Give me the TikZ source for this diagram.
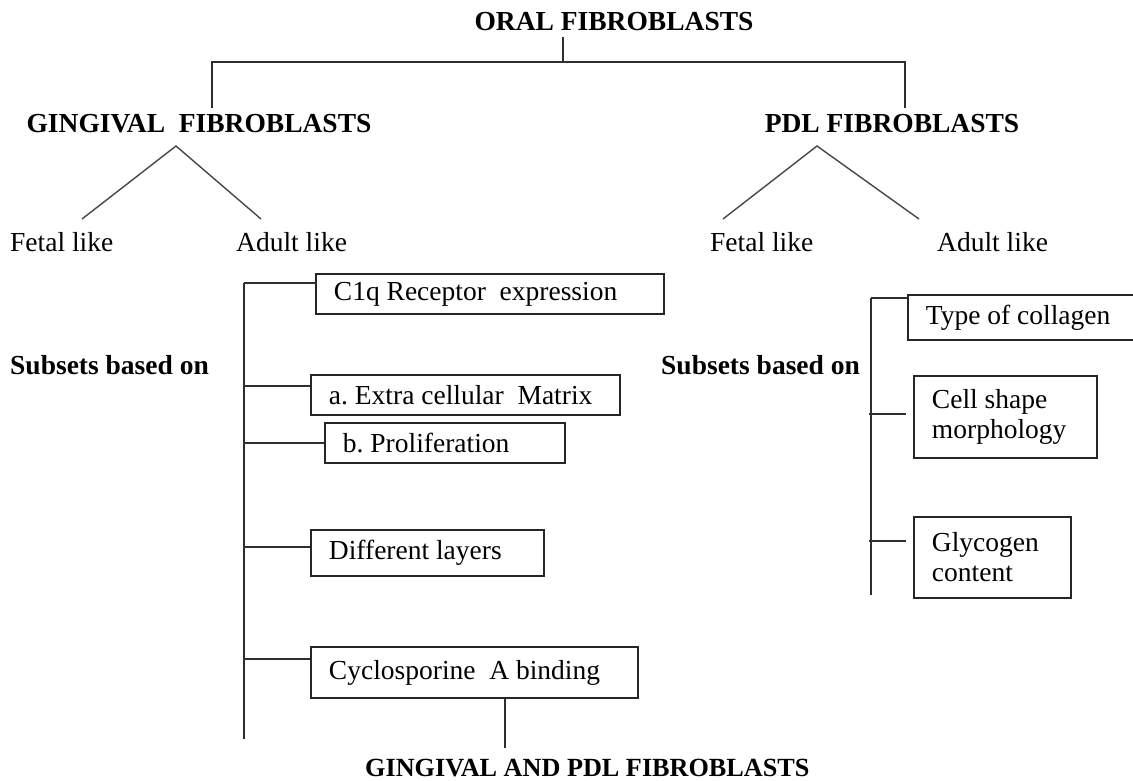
\documentclass[tikz,border=0pt]{standalone}
\usepackage{fontspec}
\setmainfont{Liberation Serif}
\begin{document}
\begin{tikzpicture}[x=1pt,y=-1pt,
  every node/.style={inner sep=0pt, font=\fontsize{27.5}{30}\selectfont\frenchspacing},
  hdr/.style={font=\fontsize{27.5}{30}\selectfont\bfseries, anchor=base},
  sub/.style={font=\fontsize{27.5}{30}\selectfont\bfseries, anchor=base west},
  lbl/.style={anchor=base west},
  box/.style={draw=black!85, line width=1.9pt, anchor=north west, inner xsep=18pt, inner ysep=0pt, align=flush left,
    execute at begin node={\hyphenpenalty=10000\exhyphenpenalty=10000}},
  ln/.style={draw=black!82, line width=1.9pt},
  dg/.style={draw=black!72, line width=1.4pt},
]
\useasboundingbox (0,0) rectangle (1133,780);
\clip (0,0) rectangle (1133,780);

% headers
\node[hdr] (oral) at (614,30) {ORAL FIBROBLASTS};
\node[hdr] (ging) at (199,132) {GINGIVAL~ FIBROBLASTS};
\node[hdr] (pdl) at (892,132) {PDL FIBROBLASTS};

\coordinate (oj) at (563,37);
\coordinate (bar) at (563,62);
\coordinate (gtop) at (212,108);
\coordinate (ptop) at (905,108);
\draw[ln] (oj) -- (bar);
\draw[ln] (gtop) |- (bar) -| (ptop);

% fetal / adult
\node[lbl] (gfetal) at (10,251) {Fetal like};
\node[lbl] (gadult) at (236,251) {Adult like};
\node[lbl] (pfetal) at (710,251) {Fetal like};
\node[lbl] (padult) at (937,251) {Adult like};

\coordinate (gapex) at (176,146);
\coordinate (gfl) at (82,219);
\coordinate (gal) at (261,219);
\draw[dg] (gfl) -- (gapex) -- (gal);
\coordinate (papex) at (817,146);
\coordinate (pfl) at (723,219);
\coordinate (pal) at (919,219);
\draw[dg] (pfl) -- (papex) -- (pal);

% subsets labels
\node[sub] (gsub) at (10,374) {Subsets based on};
\node[sub] (psub) at (661,374) {Subsets based on};

% left boxes
\node[box, text width=312pt, minimum height=40pt] (c1q) at (315,273) {C1q Receptor~ expression};
\node[box, text width=273pt, minimum height=40pt] (ecm) at (310,374) {a. Extra cellular~ Matrix};
\node[box, text width=204pt, minimum height=40pt] (prol) at (324,422) {b. Proliferation};
\node[box, text width=197pt, minimum height=46pt] (layers) at (310,529) {Different layers};
\node[box, text width=291pt, minimum height=51pt] (cyclo) at (310,646) {Cyclosporine~ A binding};

\coordinate (lt1) at (244,283);
\coordinate (lt2) at (244,386);
\coordinate (lt3) at (244,443);
\coordinate (lt4) at (244,547);
\coordinate (lt5) at (244,659);
\coordinate (ltend) at (244,739);
\draw[ln] (lt1) -- (ltend);
\draw[ln] (lt1) -- (lt1 -| c1q.west);
\draw[ln] (lt2) -- (lt2 -| ecm.west);
\draw[ln] (lt3) -- (lt3 -| prol.west);
\draw[ln] (lt4) -- (lt4 -| layers.west);
\draw[ln] (lt5) -- (lt5 -| cyclo.west);

% right boxes
\node[box, text width=204pt, minimum height=45pt] (coll) at (907,294) {Type of collagen};
\node[box, text width=147pt, minimum height=82pt] (cell) at (913,375) {Cell shape\\morphology};
\node[box, text width=121pt, minimum height=81pt] (glyc) at (913,516) {Glycogen\\content};

\coordinate (rt1) at (871,298);
\coordinate (rtend) at (871,595);
\coordinate (rt2) at (869,414);
\coordinate (rt3) at (869,541);
\draw[ln] (rt1) -- (rtend);
\draw[ln] (rt1) -- (rt1 -| coll.west);
\draw[ln] (rt2) -- ([xshift=-7pt]rt2 -| cell.west);
\draw[ln] (rt3) -- ([xshift=-7pt]rt3 -| glyc.west);

% bottom
\node[font=\fontsize{26.2}{30}\selectfont\bfseries, anchor=base west] (final) at (365,776) {GINGIVAL AND PDL FIBROBLASTS};
\coordinate (cyc) at (505,748);
\draw[ln] (cyc |- cyclo.south) -- (cyc);
\end{tikzpicture}
\end{document}
